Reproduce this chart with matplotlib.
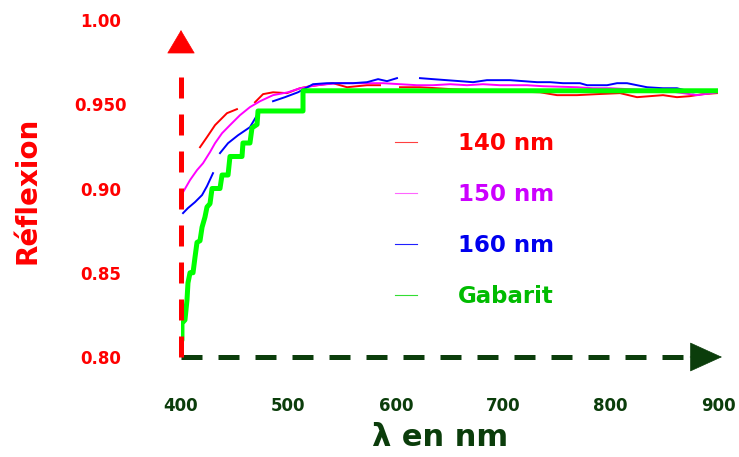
import numpy as np
import matplotlib
matplotlib.use('Agg')
import matplotlib.pyplot as plt
from matplotlib.lines import Line2D

plt.rcParams['font.family'] = 'DejaVu Sans'
plt.rcParams['font.weight'] = 'bold'
plt.rcParams['axes.labelweight'] = 'bold'

nan = np.nan

# data (lambda in nm, reflexion)
wl_140 = [417.7, 424.2, 431.7, 442.8, 452.1, nan, 468.9, 476.4, 485.7, 498.7, 510.8, 520.1,
          541.5, 554.6, 573.2, 585.3, nan, 603.9, 622.5, 653.3, 678.4, 706.3, 734.3, 750.1,
          768.7, 787.3, 808.8, 824.6, 836.7, 848.8, 861.8, 873.9, 886.0, 899.1]
r_140 = [0.9245, 0.9305, 0.9376, 0.9447, 0.9471, nan, 0.9512, 0.9560, 0.9571, 0.9566, 0.9595, 0.9607,
         0.9625, 0.9601, 0.9613, 0.9613, nan, 0.9601, 0.9601, 0.9589, 0.9583, 0.9577, 0.9571, 0.9554,
         0.9554, 0.9560, 0.9566, 0.9542, 0.9548, 0.9554, 0.9542, 0.9548, 0.9560, 0.9566]

wl_150 = [401.9, 408.4, 414.9, 420.5, 427.0, 431.7, 438.2, 445.6, 454.9, 464.2, 473.6, 485.7,
          499.6, 510.8, 526.6, 545.3, 557.4, 588.1, 619.7, 634.6, 650.5, 666.3, 681.2, 697.0,
          709.1, 722.2, 737.1, 768.7, 783.6, 799.4, 818.1, 836.7, 855.3, 880.4, 900.0]
r_150 = [0.8978, 0.9050, 0.9109, 0.9150, 0.9216, 0.9269, 0.9328, 0.9376, 0.9435, 0.9483, 0.9518, 0.9554,
         0.9571, 0.9595, 0.9613, 0.9625, 0.9625, 0.9625, 0.9613, 0.9613, 0.9619, 0.9613, 0.9619, 0.9613,
         0.9613, 0.9613, 0.9607, 0.9601, 0.9595, 0.9595, 0.9589, 0.9583, 0.9577, 0.9554, 0.9571]

wl_160 = [401.9, 406.5, 413.0, 419.6, 424.2, 429.8, nan, 436.3, 443.8, 453.1, 464.2, 470.8, nan,
          485.7, 496.8, 508.9, 522.9, 535.9, 550.8, 560.1, 573.2, 583.5, 591.8, 601.1, nan,
          622.5, 634.6, 659.8, 671.9, 684.9, 697.0, 706.3, 731.5, 743.6, 755.7, 771.5, 778.1,
          796.7, 806.0, 815.3, 824.6, 833.9, 848.8, 861.8, 876.7, 895.3, 900.0]
r_160 = [0.8854, 0.8884, 0.8919, 0.8961, 0.9014, 0.9091, nan, 0.9210, 0.9269, 0.9316, 0.9364, 0.9435, nan,
         0.9518, 0.9542, 0.9571, 0.9619, 0.9625, 0.9625, 0.9625, 0.9631, 0.9649, 0.9637, 0.9655, nan,
         0.9655, 0.9649, 0.9637, 0.9631, 0.9643, 0.9643, 0.9643, 0.9631, 0.9631, 0.9625, 0.9625, 0.9613,
         0.9613, 0.9625, 0.9625, 0.9613, 0.9601, 0.9595, 0.9595, 0.9571, 0.9583, 0.9577]

wl_gab = [400.9, 400.9, 403.7, 405.6, 406.5, 408.4, 411.2, 413.0, 414.9, 417.7, 419.6, 422.3, 424.2, 427.0,
          428.9, 436.3, 438.2, 443.8, 445.6, 456.8, 457.7, 464.2, 466.1, 470.8, 471.7, 513.6, 513.6, 900]
r_gab = [0.810, 0.820, 0.822, 0.834, 0.844, 0.850, 0.850, 0.859, 0.868, 0.869, 0.877, 0.883, 0.889, 0.891,
         0.900, 0.900, 0.908, 0.908, 0.919, 0.919, 0.927, 0.927, 0.936, 0.938, 0.946, 0.946, 0.958, 0.958]

xticks = [400, 500, 600, 700, 800, 900]
xlabels = ['400', '500', '600', '700', '800', '900']
yticks = [0.80, 0.85, 0.90, 0.95, 1.00]
ylabels = ['0.80', '0.85', '0.90', '0.950', '1.00']

dkgreen = '#0b3d0b'

fig = plt.figure(figsize=(7.39, 4.57), dpi=100)
ax = fig.add_axes([181/739, 100/457, 537/739, 337/457])
ax.set_xlim(400, 900)
ax.set_ylim(0.80, 1.00)
for s in ax.spines.values():
    s.set_visible(False)

ax.plot(wl_140, r_140, color='#ff0000', lw=1.4, label='140 nm')
ax.plot(wl_150, r_150, color='#ff00ff', lw=1.4, label='150 nm')
ax.plot(wl_160, r_160, color='#0000ff', lw=1.4, label='160 nm')
ax.plot(wl_gab, r_gab, color='#00ff00', lw=3.6, solid_capstyle='round', label='Gabarit')

# dashed axes with arrow heads
ax.plot([400, 874], [0.80, 0.80], color=dkgreen, lw=3.6, dashes=(4.2, 3.2), clip_on=False, zorder=5)
ax.annotate('', xy=(903.7, 0.80), xytext=(874, 0.80), annotation_clip=False,
            arrowprops=dict(arrowstyle='-|>,head_length=2.2,head_width=1.0', color=dkgreen,
                            lw=0.5, shrinkA=0, shrinkB=0))
ax.plot([400, 400], [0.80, 0.973], color='red', lw=3.6, dashes=(4.2, 3.2), clip_on=False, zorder=6)
ax.annotate('', xy=(400, 0.994), xytext=(400, 0.981), annotation_clip=False,
            arrowprops=dict(arrowstyle='-|>,head_length=1.6,head_width=0.95', color='red',
                            lw=0.5, shrinkA=0, shrinkB=0))

ax.set_xticks(xticks, labels=xlabels)
ax.set_yticks(yticks, labels=ylabels)
ax.tick_params(axis='x', length=0, pad=29, labelsize=12, labelcolor=dkgreen)
ax.tick_params(axis='y', length=0, pad=58, labelsize=12, labelcolor='red')
for lbl in ax.get_yticklabels():
    lbl.set_ha('center')

ax.set_ylabel('Réflexion', color='red', fontsize=20, va='center')
ax.yaxis.set_label_coords(-0.285, 0.4955)
ax.set_xlabel('λ en nm', color=dkgreen, fontsize=22, va='center')
ax.xaxis.set_label_coords(0.482, -0.24)

handles = [Line2D([], [], color='#ff4040', lw=0.8),
           Line2D([], [], color='#ff66ff', lw=0.8),
           Line2D([], [], color='#2020ff', lw=0.8),
           Line2D([], [], color='#33dd33', lw=0.8)]
leg = ax.legend(handles, ['140 nm', '150 nm', '160 nm', 'Gabarit'], loc='upper left',
                bbox_to_anchor=(0.3985, 0.668), frameon=False, borderpad=0, borderaxespad=0,
                fontsize=16.5, handlelength=0.96, handletextpad=1.8, labelspacing=1.22)
for t, c in zip(leg.get_texts(), ['#ff0000', '#cc00ff', '#0000ee', '#00bb00']):
    t.set_color(c)

fig.savefig('out.png', dpi=100)
